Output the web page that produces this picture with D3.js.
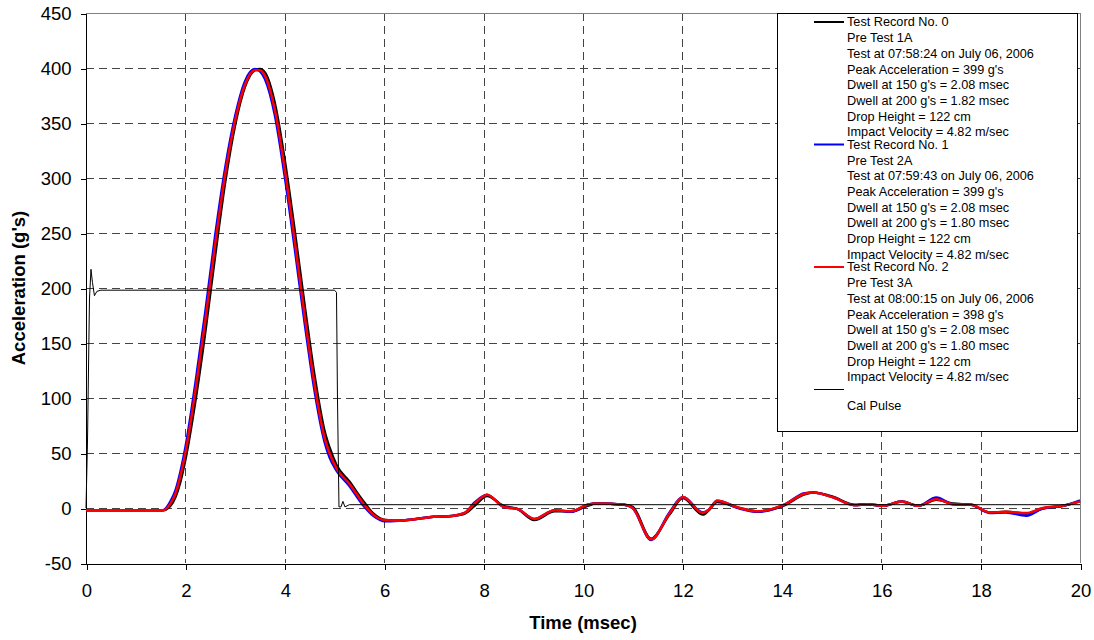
<!DOCTYPE html>
<html>
<head>
<meta charset="utf-8">
<script src="https://cdn.jsdelivr.net/npm/d3@7"></script>
<style>
  body { margin: 0; background: #fff; }
  text { font-family: "Liberation Sans", Arial, sans-serif; fill: #000; }
</style>
</head>
<body>
<script>
const width = 1094, height = 640;
const margin = {top: 13, right: 14, bottom: 77, left: 86};

// sample times (msec) shared by the three drop records
const times = [0, 0.5, 1.0, 1.55, 1.7, 1.8, 1.9, 2.0, 2.2, 2.4, 2.6, 2.8, 3.0, 3.2, 3.4, 3.5, 3.6, 3.8,
  4.0, 4.2, 4.4, 4.6, 4.8, 4.9, 5.04, 5.3, 5.55, 5.78, 6.02, 6.3, 7.0, 7.4, 7.62, 7.82, 8.07, 8.4, 8.69,
  9.02, 9.43, 9.76, 10.09, 10.26, 10.83, 11.0, 11.37, 11.74, 12.01, 12.41, 12.53, 12.7, 13.15, 13.52,
  14.05, 14.46, 14.63, 15.04, 15.46, 15.71, 16.04, 16.41, 16.74, 17.11, 17.44, 17.81, 18.18, 18.51,
  18.92, 19.25, 19.66, 20];

const record0 = [-2, -2, -2, -2, 2, 10, 24, 44, 97, 160, 230, 296, 348, 383, 398, 399, 396, 368,
  316, 252, 184, 120, 70, 55, 39, 24, 8, -5, -11, -11.5, -8, -7, -5, 2, 11, 2, -1, -11, -3, -3, 2, 4, 3,
  1, -28, -6, 9, -6, -2, 5.5, 0, -3, 2.5, 12.5, 14, 10, 3, 3.5, 2, 6, 2, 7.5, 4, 3, -4, -3.5, -5,
  -0.5, 2, 6];
const record1 = [-2, -2, -2, -2, 6, 16, 33, 55, 113, 178, 248, 309, 356, 388, 399, 397, 390, 357,
  301, 236, 168, 106, 60, 46, 34, 20, 4, -7, -12, -11.5, -8, -7, -4.5, 5, 12, 1, -1, -10, -2, -3.5, 3, 4,
  3, 0, -29, -4, 10, -4, -1.5, 6.5, -0.5, -3.5, 3, 13.5, 14, 9.5, 2.5, 3.5, 2, 6, 2, 9.5, 3.5, 3,
  -4.5, -4, -7, -0.5, 2, 7];
const record2 = [-2, -2, -2, -2, 4, 13, 29, 50, 106, 170, 240, 303, 352, 385, 398, 398, 393, 362,
  308, 243, 175, 112, 64, 50, 36, 22, 6, -6, -11, -11.5, -8, -7, -4.5, 4, 12, 1, -1, -10, -2, -3, 3, 4,
  3, 0, -28.5, -5, 10, -4.5, -1.5, 6.5, 0, -3, 3, 13, 14, 9.5, 2.5, 3.5, 2, 6, 2, 8, 3.5, 3, -4,
  -3.5, -4.5, 0, 2, 6];

// calibration pulse
const calTimes = [0, 0.03, 0.07, 0.1, 0.13, 0.17, 0.22, 0.3, 5.0, 5.04, 5.06, 5.09, 5.13, 5.17, 5.21, 5.3, 20];
const calValues = [0, 60, 190, 217, 205, 193, 197, 198, 198, 196, 100, 1, 1, 6, 1, 3, 3];

const xTicks = [0, 2, 4, 6, 8, 10, 12, 14, 16, 18, 20];
const yTicks = [-50, 0, 50, 100, 150, 200, 250, 300, 350, 400, 450];

const legendNames = ["Test Record No. 0", "Test Record No. 1", "Test Record No. 2", "Cal Pulse"];
const legendTests = ["Pre Test 1A", "Pre Test 2A", "Pre Test 3A"];
const legendStamps = ["07:58:24", "07:59:43", "08:00:15"];
const legendPeaks = [399, 399, 398];
const legendDwell150 = ["2.08", "2.08", "2.08"];
const legendDwell200 = ["1.82", "1.80", "1.80"];
const colors = ["#000000", "#0000ff", "#ff0000", "#000000"];

const x = d3.scaleLinear().domain([0, 20]).range([margin.left, width - margin.right]);
const y = d3.scaleLinear().domain([-50, 450]).range([height - margin.bottom, margin.top]);

const svg = d3.select("body").append("svg")
    .attr("width", width)
    .attr("height", height)
    .attr("viewBox", [0, 0, width, height]);

svg.append("rect").attr("width", width).attr("height", height).attr("fill", "#fff");

// gridlines
const grid = svg.append("g")
    .attr("stroke", "#444")
    .attr("stroke-dasharray", "8,5")
    .attr("shape-rendering", "crispEdges");
grid.selectAll("line.h")
  .data(yTicks.filter(d => d > -50 && d < 450))
  .join("line")
    .attr("x1", x(0)).attr("x2", x(20))
    .attr("y1", d => Math.round(y(d)) + 0.5).attr("y2", d => Math.round(y(d)) + 0.5);
grid.selectAll("line.v")
  .data(xTicks.filter(d => d > 0 && d < 20))
  .join("line")
    .attr("class", "v")
    .attr("y1", y(450)).attr("y2", y(-50))
    .attr("x1", d => Math.round(x(d)) + 0.5).attr("x2", d => Math.round(x(d)) + 0.5);

// plot area border (top / right)
svg.append("path")
    .attr("fill", "none")
    .attr("stroke", "#808080")
    .attr("shape-rendering", "crispEdges")
    .attr("d", `M${x(0)},${y(450) + 0.5}H${x(20) + 0.5}V${y(-50)}`);

// axes
const xAxis = svg.append("g")
    .attr("transform", `translate(0.5,${Math.round(y(-50)) + 0.5})`)
    .call(d3.axisBottom(x).tickValues(xTicks).tickSize(6).tickPadding(14).tickFormat(d => String(d)));
const yAxis = svg.append("g")
    .attr("transform", `translate(${x(0) + 0.5},0.5)`)
    .call(d3.axisLeft(y).tickValues(yTicks).tickSize(6).tickPadding(9).tickFormat(d => String(d)));
for (const g of [xAxis, yAxis]) {
  g.select(".domain").attr("stroke", "#000").attr("shape-rendering", "crispEdges");
  g.selectAll(".tick line").attr("stroke", "#000").attr("shape-rendering", "crispEdges");
  g.selectAll(".tick text")
      .attr("font-family", "Liberation Sans, Arial, sans-serif")
      .attr("font-size", 18.5)
      .attr("fill", "#000");
}
yAxis.select(".domain").attr("d", `M0,${y(450)}V${y(-50)}`);

// axis titles
svg.append("text")
    .attr("x", (x(0) + x(20)) / 2)
    .attr("y", 629)
    .attr("text-anchor", "middle")
    .attr("font-size", 18.5)
    .attr("font-weight", "bold")
    .text("Time (msec)");
svg.append("text")
    .attr("transform", `translate(25,${(y(-50) + y(450)) / 2}) rotate(-90)`)
    .attr("text-anchor", "middle")
    .attr("font-size", 18.5)
    .attr("font-weight", "bold")
    .text("Acceleration (g's)");

// curves
const line = d3.line()
    .x(d => x(d[0]))
    .y(d => y(d[1]))
    .curve(d3.curveMonotoneX);

const records = [record0, record1, record2];
svg.append("g")
    .attr("fill", "none")
    .attr("stroke-width", 2.5)
    .attr("stroke-linejoin", "round")
  .selectAll("path")
  .data(records)
  .join("path")
    .attr("stroke", (d, i) => colors[i])
    .attr("d", vals => line(times.map((t, i) => [t, vals[i]])));

svg.append("path")
    .attr("fill", "none")
    .attr("stroke", "#000")
    .attr("stroke-width", 1)
    .attr("d", d3.line().x(d => x(d[0])).y(d => y(d[1]))(calTimes.map((t, i) => [t, calValues[i]])));

// legend
const legend = svg.append("g");
legend.append("rect")
    .attr("x", 777.5).attr("y", 13.5)
    .attr("width", 300).attr("height", 418)
    .attr("fill", "#fff")
    .attr("stroke", "#000");

const entries = legendNames.map((name, i) => i < 3 ? [
  name,
  legendTests[i],
  `Test at ${legendStamps[i]} on July 06, 2006`,
  `Peak Acceleration = ${legendPeaks[i]} g's`,
  `Dwell at 150 g's = ${legendDwell150[i]} msec`,
  `Dwell at 200 g's = ${legendDwell200[i]} msec`,
  "Drop Height = 122 cm",
  "Impact Velocity = 4.82 m/sec"
] : ["", name]);

const item = legend.selectAll("g.item")
  .data(entries)
  .join("g")
    .attr("transform", (d, i) => `translate(0,${22 + i * 122.5})`);
item.append("line")
    .attr("x1", 814).attr("x2", 844)
    .attr("stroke", (d, i) => colors[i])
    .attr("stroke-width", (d, i) => i < 3 ? 2 : 1);
item.selectAll("text")
  .data(d => d)
  .join("text")
    .attr("x", 847)
    .attr("y", (d, k) => k * 15.7)
    .attr("dy", "0.35em")
    .attr("font-size", 12.7)
    .text(d => d);
</script>
</body>
</html>
